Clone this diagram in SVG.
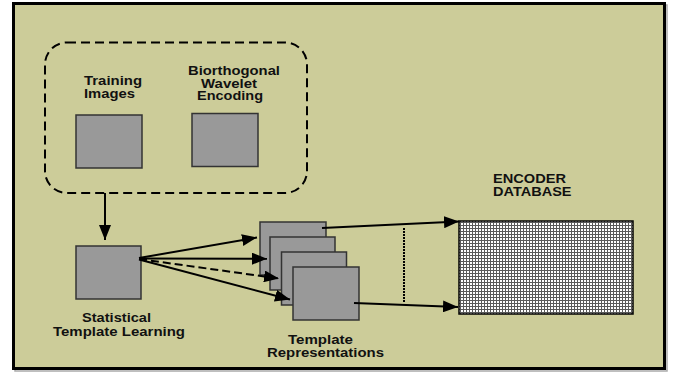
<svg xmlns="http://www.w3.org/2000/svg" width="677" height="373" viewBox="0 0 677 373">
<style>
.lbl{font-family:"Liberation Sans",Arial,sans-serif;font-weight:bold;font-size:13px;fill:#111;}
.box{fill:#999999;stroke:#333;stroke-width:1.5;}
.conn{stroke:#000;stroke-width:2;fill:none;}
</style>
<defs>
<marker id="ah" markerUnits="userSpaceOnUse" markerWidth="16" markerHeight="12" refX="15" refY="6" orient="auto">
<path d="M0,0 L15,6 L0,12 z" fill="#000"/>
</marker>
<pattern id="grid" patternUnits="userSpaceOnUse" width="3" height="3" x="459" y="221">
<rect width="3" height="3" fill="#fff"/>
<rect x="1" y="0" width="1" height="3" fill="#5a5a5a"/>
<rect x="0" y="1" width="3" height="1" fill="#5a5a5a"/>
</pattern>
</defs>
<rect x="0" y="0" width="677" height="373" fill="#fff"/>
<rect x="15" y="5" width="652" height="366" fill="none" stroke="#aaa" stroke-width="1.5"/>
<rect x="13.5" y="3.5" width="651" height="365" fill="#cccc99" stroke="#000" stroke-width="3"/>

<g id="input-group">
<rect x="45" y="42.5" width="262" height="150.5" rx="22" ry="22" fill="none" stroke="#000" stroke-width="2" stroke-dasharray="9 5"/>
</g>
<g id="training-images">
<rect class="box" x="76" y="115" width="66" height="53"/>
<text class="lbl" x="84" y="85" textLength="58" lengthAdjust="spacingAndGlyphs">Training</text>
<text class="lbl" x="84" y="97.5" textLength="51" lengthAdjust="spacingAndGlyphs">Images</text>
</g>
<g id="wavelet-encoding">
<rect class="box" x="192" y="113.5" width="66" height="53"/>
<text class="lbl" x="188" y="75" textLength="92" lengthAdjust="spacingAndGlyphs">Biorthogonal</text>
<text class="lbl" x="201" y="87.5" textLength="56" lengthAdjust="spacingAndGlyphs">Wavelet</text>
<text class="lbl" x="197" y="100" textLength="66" lengthAdjust="spacingAndGlyphs">Encoding</text>
</g>
<g id="statistical-learning">
<rect class="box" x="76" y="246" width="65" height="53"/>
<text class="lbl" x="82" y="321.5" textLength="69" lengthAdjust="spacingAndGlyphs">Statistical</text>
<text class="lbl" x="53" y="335.5" textLength="132" lengthAdjust="spacingAndGlyphs">Template Learning</text>
</g>
<g id="template-representations">
<rect class="box" x="260" y="222" width="66" height="53"/>
<rect class="box" x="270" y="237" width="65" height="53"/>
<rect class="box" x="281.5" y="252" width="65" height="53"/>
<rect class="box" x="293" y="267" width="66" height="53"/>
<text class="lbl" x="288" y="344" textLength="65" lengthAdjust="spacingAndGlyphs">Template</text>
<text class="lbl" x="267" y="356.5" textLength="117" lengthAdjust="spacingAndGlyphs">Representations</text>
</g>
<g id="encoder-database">
<rect x="459" y="221" width="174" height="93" fill="url(#grid)" stroke="#000" stroke-width="1.5"/>
<text class="lbl" x="493" y="182.5" textLength="73" lengthAdjust="spacingAndGlyphs">ENCODER</text>
<text class="lbl" x="493" y="196" textLength="78.5" lengthAdjust="spacingAndGlyphs">DATABASE</text>
</g>

<g id="connectors">
<line class="conn" x1="105" y1="193" x2="105" y2="240" marker-end="url(#ah)"/>
<line class="conn" x1="139" y1="258" x2="257" y2="237.5" marker-end="url(#ah)"/>
<line class="conn" x1="139" y1="258.5" x2="267" y2="258.7" marker-end="url(#ah)"/>
<line class="conn" x1="139" y1="259" x2="279" y2="278.5" stroke-dasharray="8 4" marker-end="url(#ah)"/>
<line class="conn" x1="139" y1="259.5" x2="290" y2="299.5" marker-end="url(#ah)"/>
<line class="conn" x1="322" y1="228" x2="459" y2="221.5" marker-end="url(#ah)"/>
<line class="conn" x1="354" y1="303" x2="458" y2="307" marker-end="url(#ah)"/>
<line x1="404" y1="228" x2="404" y2="302" stroke="#000" stroke-width="2" stroke-dasharray="2 1"/>
</g>
</svg>
